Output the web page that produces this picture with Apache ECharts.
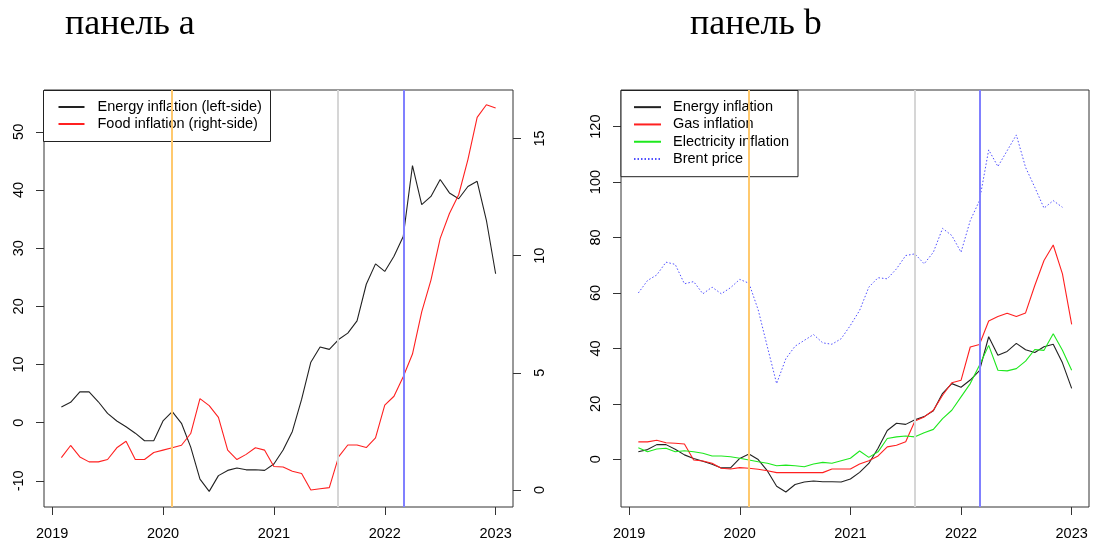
<!DOCTYPE html>
<html>
<head>
<meta charset="utf-8">
<script src="https://cdn.jsdelivr.net/npm/echarts@6/dist/echarts.min.js"></script>
<style>
  html, body { margin: 0; padding: 0; background: #fff; }
  #chart { width: 1094px; height: 541px; }
</style>
</head>
<body>
<div id="chart"></div>
<script>
// Monthly observations, January 2019 to December 2022
const months = [];
for (let y = 2019; y <= 2022; y++) {
  for (let m = 1; m <= 12; m++) months.push(y + '-' + String(m).padStart(2, '0'));
}

// Year-on-year inflation, %
const energyInflation = [
  2.7, 3.5, 5.3, 5.3, 3.6, 1.6, 0.3, -0.7, -1.8, -3.1, -3.1, 0.3,
  1.9, -0.1, -4.2, -9.7, -11.8, -9.1, -8.2, -7.8, -8.1, -8.1, -8.2, -7.1,
  -4.7, -1.5, 4.0, 10.4, 13.0, 12.6, 14.3, 15.4, 17.5, 23.8, 27.3, 26.0,
  28.6, 32.0, 44.2, 37.5, 38.9, 41.8, 39.5, 38.5, 40.6, 41.5, 34.8, 25.6
];
const foodInflation = [
  1.38, 1.9, 1.41, 1.2, 1.2, 1.3, 1.8, 2.08, 1.3, 1.3, 1.6, 1.7,
  1.8, 1.91, 2.41, 3.9, 3.6, 3.1, 1.7, 1.3, 1.52, 1.8, 1.7, 1.0,
  0.98, 0.8, 0.7, 0.0, 0.05, 0.1, 1.41, 1.92, 1.92, 1.81, 2.22, 3.62,
  4.0, 4.83, 5.8, 7.6, 8.96, 10.74, 11.8, 12.6, 14.1, 15.9, 16.44, 16.3
];
const gasInflation = [
  6.3, 6.3, 6.9, 6.0, 5.8, 5.5, -0.25, -0.6, -1.4, -3.2, -3.5, -3.0,
  -3.2, -3.6, -4.1, -4.8, -4.8, -4.8, -4.8, -4.8, -4.8, -3.5, -3.5, -3.5,
  -1.7, -0.5, 1.2, 4.5, 5.1, 6.3, 13.8, 15.3, 17.7, 23.1, 27.6, 28.5,
  40.5, 41.4, 49.9, 51.5, 52.7, 51.5, 52.8, 62.7, 71.7, 77.3, 66.9, 48.7
];
const electricityInflation = [
  4.2, 2.7, 3.7, 4.0, 2.7, 3.1, 2.7, 2.2, 1.2, 1.2, 0.9, 0.4,
  -0.25, -0.9, -1.4, -2.3, -2.1, -2.3, -2.7, -1.7, -1.1, -1.4, -0.5, 0.4,
  3.0, 0.7, 2.7, 7.5, 8.1, 8.4, 8.1, 9.6, 10.8, 14.7, 17.7, 22.5,
  27.3, 33.9, 41.1, 32.1, 31.9, 32.7, 35.4, 39.6, 39.3, 45.3, 39.3, 32.1
];
// Brent crude, monthly average (last month not yet available)
const brentPrice = [
  60.0, 64.5, 66.5, 71.1, 70.3, 63.3, 64.1, 59.7, 62.1, 59.7, 61.9, 64.9,
  63.5, 53.9, 40.5, 27.3, 36.3, 40.8, 42.9, 45.0, 42.0, 41.5, 43.5, 48.3,
  53.7, 62.1, 65.5, 65.1, 68.7, 73.5, 74.1, 70.5, 74.7, 83.3, 80.7, 74.7,
  86.1, 93.3, 111.6, 105.6, 111.3, 117.0, 105.3, 98.1, 90.6, 93.3, 90.9, null
];

// Reference events drawn as vertical lines
const eventMonths = ['2020-01', '2021-07', '2022-02'];
const eventColors = ['#ffc96e', '#d6d6d6', '#8080ff'];

// Axis tick labels
const yearTicks = [2019, 2020, 2021, 2022, 2023];
const energyTicks = [-10, 0, 10, 20, 30, 40, 50];
const foodTicks = [0, 5, 10, 15];
const panelBTicks = [0, 20, 40, 60, 80, 100, 120];

// "YYYY-MM" -> year + month/12 (December sits on the next year mark)
const toTime = s => { const [y, m] = s.split('-').map(Number); return y + m / 12; };
const times = months.map(toTime);
const pairs = vals => vals.map((v, i) => [times[i], v]);

const span = times[times.length - 1] - times[0];
const xMin = times[0] - 0.04 * span;
const xMax = times[times.length - 1] + 0.04 * span;

const FONT = '"Liberation Sans", Arial, sans-serif';
const AXIS_COLOR = '#333';

function xAxisFor(gridIndex) {
  return {
    type: 'value', gridIndex, min: xMin, max: xMax,
    axisLine: { show: false, onZero: false },
    splitLine: { show: false },
    axisTick: { show: true, length: 8, lineStyle: { color: AXIS_COLOR }, customValues: yearTicks },
    axisLabel: { customValues: yearTicks, color: '#000', fontSize: 14.5, fontFamily: FONT, margin: 19,
                 formatter: v => String(Math.round(v)) }
  };
}
function yAxisFor(gridIndex, position, min, max, ticks, margin) {
  return {
    type: 'value', gridIndex, position, min, max,
    axisLine: { show: false, onZero: false },
    splitLine: { show: false },
    axisTick: { show: true, length: 8, lineStyle: { color: AXIS_COLOR }, customValues: ticks },
    axisLabel: { customValues: ticks, rotate: 90, color: '#000', fontSize: 14.5, fontFamily: FONT, margin }
  };
}
function eventLines() {
  return {
    symbol: ['none', 'none'], silent: true, animation: false,
    label: { show: false },
    data: eventMonths.map((m, i) => ({ xAxis: toTime(m), lineStyle: { color: eventColors[i], width: 2, type: 'solid' } }))
  };
}
function lineSeries(name, data, xi, yi, color, extra) {
  return Object.assign({
    type: 'line', name, data: pairs(data), xAxisIndex: xi, yAxisIndex: yi,
    showSymbol: false, symbol: 'none', connectNulls: false,
    lineStyle: { color, width: 1.1 }, itemStyle: { color },
    emphasis: { disabled: true }, animation: false
  }, extra || {});
}
function legendFor(names, left, top, itemWidth, textPad, textWidth, lineHeight, padding) {
  return {
    data: names, orient: 'vertical', left, top, padding,
    itemWidth, itemHeight: 14, itemGap: 0, selectedMode: false,
    itemStyle: { opacity: 0 },
    backgroundColor: '#fff', borderColor: '#222', borderWidth: 1, borderRadius: 0,
    textStyle: { color: '#000', fontSize: 14.5, fontFamily: FONT, lineHeight, width: textWidth,
                 overflow: 'none', padding: [0, 0, 0, textPad] }
  };
}

const chart = echarts.init(document.getElementById('chart'), null, { renderer: 'canvas' });
chart.setOption({
  backgroundColor: '#fff',
  animation: false,
  graphic: [
    { type: 'text', x: 65, y: 25, style: { text: 'панель a', font: '36px "Liberation Serif", serif', fill: '#000', verticalAlign: 'middle' } },
    { type: 'text', x: 690, y: 25, style: { text: 'панель b', font: '36px "Liberation Serif", serif', fill: '#000', verticalAlign: 'middle' } }
  ],
  grid: [
    { left: 44, top: 90, width: 469, height: 417, show: true, borderColor: AXIS_COLOR, borderWidth: 1, backgroundColor: 'transparent' },
    { left: 621, top: 90, width: 468, height: 417, show: true, borderColor: AXIS_COLOR, borderWidth: 1, backgroundColor: 'transparent' }
  ],
  xAxis: [xAxisFor(0), xAxisFor(1)],
  yAxis: [
    yAxisFor(0, 'left', -14.49, 57.19, energyTicks, 18),
    yAxisFor(0, 'right', -0.726, 17.07, foodTicks, 19),
    yAxisFor(1, 'left', -17.2, 133.2, panelBTicks, 18)
  ],
  legend: [
    legendFor(['Energy inflation (left-side)', 'Food inflation (right-side)'], 43.5, 90.5, 26, 8, 166, 17, [8, 7, 9, 14]),
    legendFor(['Energy inflation', 'Gas inflation', 'Electricity inflation', 'Brent price'], 621, 90.5, 27, 7, 118, 17.3, [8, 7, 9, 12])
  ],
  series: [
    lineSeries('Energy inflation (left-side)', energyInflation, 0, 0, '#222'),
    lineSeries('Food inflation (right-side)', foodInflation, 0, 1, '#ff2020', { markLine: eventLines() }),
    lineSeries('Energy inflation', energyInflation, 1, 2, '#222'),
    lineSeries('Gas inflation', gasInflation, 1, 2, '#ff2020'),
    lineSeries('Electricity inflation', electricityInflation, 1, 2, '#1ee81e'),
    lineSeries('Brent price', brentPrice, 1, 2, '#4f4fff', {
      lineStyle: { color: '#4f4fff', width: 1, type: [1.5, 2] }, markLine: eventLines()
    })
  ]
});
</script>
</body>
</html>
